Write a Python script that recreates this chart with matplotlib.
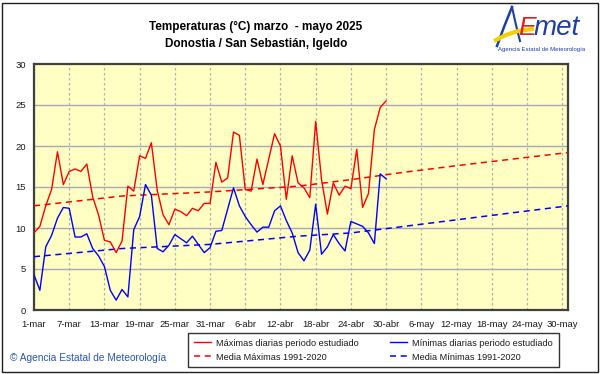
import matplotlib
matplotlib.use("Agg")
import matplotlib.pyplot as plt
from matplotlib.patches import Rectangle
from matplotlib.lines import Line2D

plt.rcParams['font.family'] = ['Liberation Sans', 'DejaVu Sans']

# day index 0 = 1-mar, 91 = 31-may
tick_days = [0, 6, 12, 18, 24, 30, 36, 42, 48, 54, 60, 66, 72, 78, 84, 90]
tick_labels = ['1-mar', '7-mar', '13-mar', '19-mar', '25-mar', '31-mar', '6-abr', '12-abr',
               '18-abr', '24-abr', '30-abr', '6-may', '12-may', '18-may', '24-may', '30-may']

# daily maxima / minima 1-mar .. 30-abr
tmax = [9.4, 10.2, 12.7, 14.7, 19.3, 15.3, 16.9, 17.2, 16.9, 17.8,
        13.8, 11.6, 8.5, 8.3, 7.0, 8.4, 15.1, 14.5, 18.8, 18.5,
        20.4, 14.6, 11.6, 10.4, 12.3, 12.0, 11.5, 12.4, 12.1, 13.0,
        13.0, 18.0, 15.6, 16.1, 21.7, 21.3, 14.7, 14.5, 18.4, 15.3,
        18.4, 21.5, 20.0, 13.5, 18.8, 15.5, 14.9, 13.7, 23.0, 15.9,
        11.7, 15.5, 14.0, 15.1, 14.8, 19.6, 12.5, 14.2, 22.0, 24.7,
        25.5]
tmin = [4.3, 2.4, 7.7, 9.1, 11.2, 12.5, 12.4, 8.9, 8.9, 9.3,
        7.5, 6.6, 5.3, 2.4, 1.2, 2.5, 1.6, 9.8, 11.4, 15.3,
        14.0, 7.5, 7.1, 7.9, 9.2, 8.7, 8.2, 9.0, 8.0, 7.0,
        7.6, 9.6, 9.7, 12.3, 14.9, 12.7, 11.4, 10.4, 9.5, 10.1,
        10.1, 12.1, 12.7, 10.9, 9.4, 7.0, 6.0, 7.3, 12.9, 6.8,
        7.7, 9.2, 8.1, 7.2, 10.8, 10.5, 10.2, 9.4, 8.1, 16.6,
        16.0]

# climatological means 1991-2020 (read at a few days)
norm_days = [0, 15, 30, 45, 54, 62, 72, 91]
norm_max = [12.7, 13.9, 14.4, 15.1, 15.9, 16.7, 17.6, 19.2]
norm_min = [6.5, 7.5, 8.0, 9.0, 9.4, 10.1, 11.0, 12.7]

W, H = 601, 374
fig = plt.figure(figsize=(W / 100, H / 100), dpi=100)
fig.patch.set_facecolor('white')
ax = fig.add_axes([34 / W, 1 - 310 / H, (568 - 34) / W, (310 - 64) / H])
ax.set_facecolor('#FFFFC4')

for v in [5, 10, 15, 20, 25]:
    ax.axhline(v, color='#A8A8B8', lw=1.0, zorder=1)
for d in tick_days:
    ax.axvline(d, color='#B0B0B0', lw=0.9, ls=(0, (2, 2)), zorder=1)

days = list(range(len(tmax)))
ax.plot(norm_days, norm_max, color='red', lw=1.1, ls=(0, (4, 3)), zorder=3,
        label='Media Máximas 1991-2020')
ax.plot(norm_days, norm_min, color='blue', lw=1.1, ls=(0, (4, 3)), zorder=3,
        label='Media Mínimas 1991-2020')
ax.plot(days, tmax, color='red', lw=1.0, zorder=4, label='Máximas diarias periodo estudiado')
ax.plot(days, tmin, color='blue', lw=1.0, zorder=4, label='Mínimas diarias periodo estudiado')

ax.set_xlim(0, 91)
ax.set_ylim(0, 30)
ax.set_yticks(range(0, 31, 5))
ax.set_xticks(tick_days)
ax.set_xticklabels(tick_labels)
ax.tick_params(length=0, labelsize=6.8, colors='#1a1a1a', pad=7)
ax.tick_params(axis='y', pad=6)
for s in ax.spines.values():
    s.set_color('#404040')
    s.set_linewidth(1.6)

# legend
h, l = ax.get_legend_handles_labels()
order = [2, 0, 3, 1]
leg = fig.legend([h[i] for i in order], [l[i] for i in order], ncol=2,
                 loc='upper left', bbox_to_anchor=(188 / W, 1 - 333 / H),
                 frameon=True, fancybox=False, fontsize=6.6, handlelength=1.9,
                 handletextpad=0.55, columnspacing=3.4, labelspacing=0.55,
                 borderpad=0.6, borderaxespad=0)
leg.get_frame().set_edgecolor('black')
leg.get_frame().set_linewidth(1.0)
for t in leg.get_texts():
    t.set_color('#1a1a1a')

# titles
fig.text(256 / W, 1 - 27 / H, 'Temperaturas (°C) marzo  - mayo 2025', ha='center', va='center',
         fontsize=8.5, fontweight='bold')
fig.text(256 / W, 1 - 44 / H, 'Donostia / San Sebastián, Igeldo', ha='center', va='center',
         fontsize=8.5, fontweight='bold')

# logo
logo_blue = '#1f3fa0'
fig.lines.append(Line2D([497 / W, 504 / W, 512 / W], [1 - 46 / H, 1 - 27 / H, 1 - 7 / H],
                        transform=fig.transFigure, color=logo_blue, lw=1.8))
fig.lines.append(Line2D([512 / W, 516 / W, 520 / W], [1 - 7 / H, 1 - 25 / H, 1 - 41 / H],
                        transform=fig.transFigure, color=logo_blue, lw=1.5))
fig.lines.append(Line2D([496 / W, 506 / W, 518 / W, 532 / W], [1 - 40 / H, 1 - 35 / H, 1 - 31 / H, 1 - 29 / H],
                        transform=fig.transFigure, color='#f5d000', lw=3.0))
fig.text(518 / W, 1 - 28 / H, 'E', color='#e02020', fontsize=19, fontstyle='italic',
         ha='left', va='center')
fig.text(534 / W, 1 - 28 / H, 'met', color=logo_blue, fontsize=20, fontstyle='italic',
         ha='left', va='center')
fig.text(542 / W, 1 - 49 / H, 'Agencia Estatal de Meteorología', color=logo_blue,
         fontsize=4.3, ha='center', va='center')

fig.text(10 / W, 1 - 358 / H, '© Agencia Estatal de Meteorología', color='#2a55b0',
         fontsize=7.3, ha='left', va='center')

# outer frame
fig.patches.append(Rectangle((2 / W, 2 / H), 596 / W, 369 / H, transform=fig.transFigure,
                             fill=False, edgecolor='#202020', lw=1.0))

fig.savefig('out.png', dpi=100)
